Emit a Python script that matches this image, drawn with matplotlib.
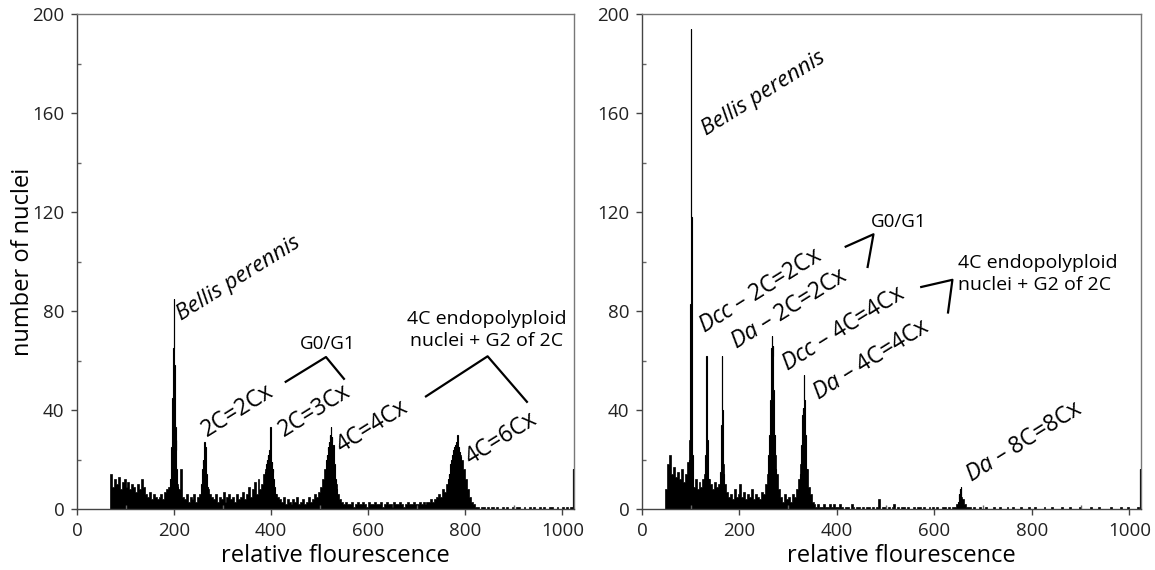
import numpy as np
import matplotlib
matplotlib.use("Agg")
import matplotlib.pyplot as plt
from matplotlib.ticker import MultipleLocator

plt.rcParams['font.family'] = ['Open Sans', 'DejaVu Sans']
plt.rcParams['mathtext.fontset'] = 'custom'
plt.rcParams['mathtext.it'] = 'Open Sans:italic'
plt.rcParams['mathtext.rm'] = 'Open Sans'

# ---- left panel: background counts in 4-channel bins, from channel 68 ----
left_bg_start = 68
left_bg = [
    14, 9, 12, 10, 13, 8, 11, 12,                     # 68-100
    9, 11, 8, 10, 9, 7, 10, 8, 12, 9,                  # 100-140
    6, 5, 7, 4, 6, 5, 4, 5, 6, 4, 7, 8,                # 140-188
    9, 12, 14, 14, 10, 8,                              # 188-212
    16, 5, 4, 6, 3, 5, 4, 6, 3, 5,                     # 212-252
    6, 8, 10, 10, 8, 6, 5,                             # 252-280
    4, 6, 3, 5, 4, 7, 3, 5, 6, 4, 5, 3, 6, 4, 5, 7, 4, 6, 9, 5, 8, 11, 6, 12, 8,  # 280-380
    10, 14, 16, 18, 16, 12, 8, 6, 5,                   # 380-416
    4, 3, 5, 2, 4, 3, 2, 4, 3, 5, 2, 3, 4, 2, 3, 5, 3, 4, 6, 5, 7,  # 416-500
    9, 12, 16, 20, 22, 22, 20, 16, 10, 6, 4,           # 500-544
    3, 2, 3, 2, 2, 3, 1, 2, 3, 2, 2, 3, 2, 1, 3, 2, 2, 3, 2, 2, 3, 1, 2, 3, 2,
    2, 1, 3, 2, 2, 3, 2, 1, 2, 3, 2, 2, 3, 2, 2, 3, 2, 3, 2, 3, 3, 4, 3, 4,  # 544-740
    5, 6, 5, 8, 7, 10, 12, 15, 18, 20, 22, 24, 22, 20, 16, 12, 8, 5, 3, 2,  # 740-820
    1, 1, 0, 1, 1, 0, 1, 0, 1, 1, 0, 1, 0, 0, 1, 0, 1, 0, 0, 1, 0, 1, 1, 0, 0,
    1, 0, 0, 1, 0, 1, 0, 0, 1, 0, 1, 0, 0, 1, 1, 0, 0, 1, 0, 0, 1, 0, 1, 0, 1,  # 820-1020
    1,                                                 # 1020-1024
]
# single-channel peaks: (first channel, counts)
left_peaks = [
    (192, [12, 18, 25, 35, 45, 54, 65, 85, 58, 44, 33, 24, 28, 16, 12, 9, 7, 6]),
    (255, [8, 10, 13, 16, 20, 18, 24, 27, 19, 25, 20, 14, 12, 9, 7, 6]),
    (387, [12, 15, 14, 18, 20, 17, 22, 19, 21, 24, 20, 33, 22, 18, 19, 15, 16, 12, 10, 9, 7, 6, 5]),
    (510, [10, 12, 15, 17, 20, 22, 21, 25, 24, 27, 26, 30, 28, 33, 27, 29, 25, 24, 26, 20, 18, 15, 12, 10, 8, 6]),
    (764, [10, 12, 14, 13, 16, 18, 17, 20, 19, 22, 21, 24, 23, 25, 22, 26, 24, 27, 25, 30, 26, 24, 25,
           22, 23, 20, 21, 18, 19, 16, 15, 13, 11, 10, 8, 7, 6]),
    (1021, [16]),
]

# ---- right panel ----
right_bg_start = 48
right_bg = [
    8, 18, 22, 14, 17, 13, 15, 12, 16, 11, 14, 19,      # 48-96
    28, 20,                                            # 96-104
    9, 12, 8, 11, 9, 12,                               # 104-128
    14, 20, 12,                                        # 128-140
    10, 8, 11, 9, 10,                                  # 140-160
    14, 18, 10,                                        # 160-172
    7, 5, 6, 4, 8, 5, 6, 10, 5, 7, 4, 6, 5, 8, 4, 6, 5, 4, 7, 6,  # 172-252
    10, 14, 20, 28, 30, 22, 14, 8,                     # 252-284
    5, 3, 6, 4, 5, 3, 6, 5, 8,                         # 284-320
    12, 18, 30, 28, 16, 9, 6,                          # 320-348
    3, 2, 1, 2, 1, 1, 2, 1, 1, 2, 1, 2, 1,             # 348-400
    1, 2, 1, 0, 1, 1, 0, 2, 1, 0, 1, 1, 0, 1, 0, 1, 1, 0, 1, 0, 1, 4, 0, 1, 1,
    0, 1, 0, 1, 2, 0, 1, 0, 1, 1, 0, 1, 0, 0, 1, 0, 1, 1, 0, 1, 0, 0, 1, 0, 1,
    0, 1, 0, 0, 1, 1, 0, 1, 0, 1,                      # 400-640
    1, 2, 3, 5, 4, 2, 1, 1,                            # 640-672
    1, 0, 1, 0, 0, 1, 0, 0, 1, 0, 0, 0, 1, 0, 0, 1, 0, 0, 0, 1, 0, 0, 1, 0, 0,
    0, 1, 0, 0, 0, 1, 0, 0, 1, 0, 0, 0, 0, 1, 0, 0, 0, 1, 0, 0, 0, 0, 1, 0, 0,
    0, 1, 0, 0, 0, 0, 1, 0, 0, 0, 0, 0, 1, 0, 0, 0, 1, 0, 0, 0, 0, 0, 1, 0, 0,
    0, 0, 1, 0, 0, 0, 1, 0, 0, 0, 0, 1,                # 672-1020
    0,                                                 # 1020-1024
]
right_peaks = [
    (96, [12, 20, 32, 83, 194, 118, 45, 22, 14]),
    (128, [12, 16, 22, 35, 62, 51, 28, 18, 12, 10]),
    (160, [12, 15, 20, 34, 62, 40, 22, 14, 10]),
    (258, [18, 22, 26, 30, 36, 44, 52, 65, 70, 62, 66, 48, 38, 30, 22, 16, 12, 9]),
    (325, [14, 20, 26, 32, 38, 41, 36, 54, 44, 38, 30, 22, 16, 10, 7]),
    (648, [2, 3, 6, 4, 8, 5, 9, 4, 3, 2]),
    (1021, [16]),
]

fig = plt.figure(figsize=(11.55, 5.7), dpi=100)
ax1 = fig.add_axes([77 / 1155, 1 - 509 / 570, 497 / 1155, 495 / 570])
ax2 = fig.add_axes([642 / 1155, 1 - 509 / 570, 499 / 1155, 495 / 570])


def draw_hist(ax, bg_start, bg, peaks):
    edges = bg_start + 4 * np.arange(len(bg) + 1)
    ax.stairs(bg, edges, fill=True, facecolor='black', edgecolor='black', lw=0.5)
    for start, vals in peaks:
        e = start + np.arange(len(vals) + 1)
        ax.stairs(vals, e, fill=True, facecolor='black', edgecolor='black', lw=0.8)


def style(ax):
    ax.set_xlim(0, 1024)
    ax.set_ylim(0, 200)
    ax.xaxis.set_major_locator(MultipleLocator(200))
    ax.xaxis.set_minor_locator(MultipleLocator(100))
    ax.yaxis.set_major_locator(MultipleLocator(40))
    ax.yaxis.set_minor_locator(MultipleLocator(20))
    ax.tick_params(which='major', direction='out', length=4, width=1, color='#444',
                   labelsize=13.5, labelcolor='#222', pad=5)
    ax.tick_params(which='minor', direction='in', length=3, width=1, color='#666')
    for name, sp in ax.spines.items():
        sp.set_color('#444' if name in ('left', 'bottom') else '#777')
        sp.set_linewidth(1)
    ax.set_xlabel('relative flourescence', fontsize=17)
    ax.xaxis.set_label_coords(0.52, -0.07)


draw_hist(ax1, left_bg_start, left_bg, left_peaks)
draw_hist(ax2, right_bg_start, right_bg, right_peaks)
style(ax1)
style(ax2)
ax1.set_ylabel('number of nuclei', fontsize=17)
ax1.yaxis.set_label_coords(-0.085, 0.5)

rot_kw = dict(rotation=32, rotation_mode='anchor', ha='left', va='baseline', fontsize=16.5)

# left annotations
ax1.text(216, 76, 'Bellis perennis', style='italic', **{**rot_kw, 'fontsize': 16})
ax1.text(268, 29, '2C=2Cx', **rot_kw)
ax1.text(426, 29, '2C=3Cx', **rot_kw)
ax1.text(544, 22.8, '4C=4Cx', **rot_kw)
ax1.text(811, 17.6, '4C=6Cx', **rot_kw)
ax1.text(516, 66.8, 'G0/G1', ha='center', va='center', fontsize=13.5)
ax1.text(844, 72.3, '4C endopolyploid\nnuclei + G2 of 2C', ha='center', va='center',
         multialignment='center', fontsize=14, linespacing=1.25)
ax1.plot([430, 513, 550], [51.4, 61.4, 52.6], color='black', lw=1.6)
ax1.plot([719, 846, 927], [45.5, 61.7, 43.3], color='black', lw=1.6)

# right annotations
ax2.text(132, 151, 'Bellis perennis', style='italic', **{**rot_kw, 'fontsize': 16})
ax2.text(128, 71, r'$\mathit{Dcc}$ – 2C=2Cx', **rot_kw)
ax2.text(192, 64.6, r'$\mathit{Da}$ – 2C=2Cx', **rot_kw)
ax2.text(298, 55.8, r'$\mathit{Dcc}$ – 4C=4Cx', **rot_kw)
ax2.text(362, 44, r'$\mathit{Da}$ – 4C=4Cx', **rot_kw)
ax2.text(674, 10.8, r'$\mathit{Da}$ – 8C=8Cx', **rot_kw)
ax2.text(527, 116, 'G0/G1', ha='center', va='center', fontsize=13.5)
ax2.text(648, 95, '4C endopolyploid\nnuclei + G2 of 2C', ha='left', va='center',
         multialignment='left', fontsize=14, linespacing=1.25)
ax2.plot([418, 475, 463], [106, 111, 97.8], color='black', lw=1.6)
ax2.plot([573, 637, 628], [89.7, 92.6, 79.4], color='black', lw=1.6)

fig.savefig('out.png', dpi=100)
